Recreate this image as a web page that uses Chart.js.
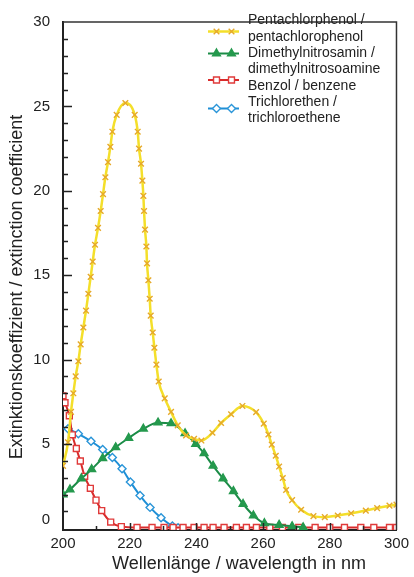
<!DOCTYPE html>
<html>
<head>
<meta charset="utf-8">
<script src="https://cdn.jsdelivr.net/npm/chart.js@4.4.0/dist/chart.umd.min.js"></script>
<style>
  html, body { margin: 0; padding: 0; background: #fff; }
  #wrap { width: 414px; height: 577px; }
</style>
</head>
<body>
<div id="wrap"><canvas id="chart"></canvas></div>
<script>
// ─── Data ───────────────────────────────────────────────────────────────────
const seriesLabels = [
  ['Pentachlorphenol /', 'pentachlorophenol'],
  ['Dimethylnitrosamin /', 'dimethylnitrosoamine'],
  ['Benzol / benzene'],
  ['Trichlorethen /', 'trichloroethene'],
];
const xTitle = 'Wellenlänge / wavelength in nm';
const yTitle = 'Extinktionskoeffizient / extinction coefficient';

const xTicks = [200, 220, 240, 260, 280, 300];
const yTicks = [0, 5, 10, 15, 20, 25, 30];

// Pentachlorphenol
const pcpNm  = [200, 201.5, 202.4, 203.1, 203.8, 204.6, 205.3, 206.1, 206.9, 207.6, 208.3, 208.9, 209.6, 210.5,
                211.3, 212.0, 212.7, 213.5, 214.2, 214.8, 216.1, 218.7, 221.5, 222.4, 222.8, 223.4, 223.8, 224.1,
                224.3, 224.6, 225.0, 225.2, 225.6, 226.0, 226.3, 226.9, 227.4, 228.0, 228.7, 230.5, 232.4, 234.4,
                236.9, 239.3, 241.5, 244.8, 247.4, 250.4, 253.8, 257.9, 260.2, 261.6, 262.6, 263.8, 264.8, 265.9,
                266.9, 268.7, 271.4, 275.1, 278.5, 282.4, 286.4, 290.8, 294.2, 297.9, 300];
const pcpVal = [3.7, 5.1, 6.9, 8.0, 9.0, 9.9, 10.9, 11.9, 12.9, 13.9, 14.9, 15.8, 16.8, 17.8,
                18.8, 19.8, 20.8, 21.7, 22.6, 23.5, 24.5, 25.2, 24.5, 23.5, 22.5, 21.6, 20.6, 19.7,
                18.8, 17.7, 16.7, 15.7, 14.7, 13.6, 12.6, 11.6, 10.7, 9.7, 8.7, 7.7, 6.9, 6.1,
                5.5, 5.3, 5.2, 5.66, 6.24, 6.76, 7.25, 6.88, 6.2, 5.56, 4.96, 4.3, 3.66, 2.98,
                2.27, 1.67, 1.1, 0.72, 0.66, 0.76, 0.89, 1.05, 1.2, 1.34, 1.4];

// Dimethylnitrosamin
const dmnNm  = [200, 202.1, 205.5, 208.6, 211.9, 215.8, 219.7, 224.1, 228.5, 232.4, 236.6, 239.8, 242.3, 245.0,
                248.0, 251.1, 254.0, 257.1, 260.4, 264.8, 268.7, 272];
const dmnVal = [2.0, 2.3, 2.95, 3.5, 4.15, 4.8, 5.35, 5.9, 6.26, 6.22, 5.63, 5.0, 4.44, 3.7,
                2.95, 2.2, 1.44, 0.76, 0.3, 0.2, 0.12, 0.06];

// Benzol
const bzNm  = [200, 200.6, 201.9, 202.8, 204.0, 205.2, 206.5, 208.2, 209.9, 211.6, 214.3, 217.5, 222.2, 226.7,
               230.3, 233.0, 236.0, 239.3, 242.3, 245.0, 248.3, 252.0, 255.0, 258.0, 262.0, 265.8, 270.7, 275.6,
               280.0, 284.4, 289.3, 293.2, 297.9, 300];
const bzVal = [7.85, 7.44, 6.67, 5.54, 4.73, 3.99, 3.08, 2.37, 1.67, 1.05, 0.37, 0.1, 0.05, 0.05,
               0.05, 0.05, 0.05, 0.05, 0.05, 0.05, 0.05, 0.05, 0.05, 0.05, 0.05, 0.05, 0.05, 0.05,
               0.05, 0.05, 0.05, 0.05, 0.05, 0.05];

// Trichlorethen
const tceNm  = [201.5, 204.6, 208.4, 211.9, 214.8, 217.7, 220.2, 223.1, 226.1, 229.4, 232.8, 234.5];
const tceVal = [5.9, 5.6, 5.16, 4.67, 4.19, 3.53, 2.75, 1.94, 1.24, 0.62, 0.14, 0.03];

// ─── Helpers ────────────────────────────────────────────────────────────────
const pts = (xs, ys) => xs.map((x, i) => ({ x, y: ys[i] }));

const FONT = "'Liberation Sans', Arial, sans-serif";
const INK  = '#222';

// ─── Frame, inner ticks, titles and legend ──────────────────────────────────
const framePlugin = {
  id: 'frame',
  afterDatasetsDraw(chart) {
    const { ctx, chartArea: a, scales: { x, y } } = chart;
    ctx.save();

    // top + right box lines
    ctx.strokeStyle = '#333';
    ctx.lineWidth = 1.5;
    ctx.beginPath();
    ctx.moveTo(a.left, a.top);
    ctx.lineTo(a.right, a.top);
    ctx.lineTo(a.right, a.bottom);
    ctx.stroke();

    // inward ticks
    ctx.strokeStyle = INK;
    ctx.lineWidth = 1.5;
    ctx.beginPath();
    for (let v = 1; v <= 29; v++) {
      const py = Math.round(y.getPixelForValue(v)) + 0.5;
      ctx.moveTo(a.left, py);
      ctx.lineTo(a.left + (v % 5 ? 5 : 9), py);
    }
    for (let v = 210; v <= 290; v += 10) {
      const px = Math.round(x.getPixelForValue(v)) + 0.5;
      ctx.moveTo(px, a.bottom);
      ctx.lineTo(px, a.bottom - (v % 20 ? 4 : 7));
    }
    ctx.stroke();

    // zero label sits a little above its tick in the original
    ctx.fillStyle = INK;
    ctx.font = '15px ' + FONT;
    ctx.textAlign = 'right';
    ctx.textBaseline = 'middle';
    ctx.fillText(String(yTicks[0]), a.left - 13, y.getPixelForValue(yTicks[0]) - 8);

    // axis titles
    ctx.font = '18px ' + FONT;
    ctx.textAlign = 'center';
    ctx.fillText(xTitle, 239, 564);
    ctx.save();
    ctx.translate(17, 287);
    ctx.rotate(-Math.PI / 2);
    ctx.fillText(yTitle, 0, 0);
    ctx.restore();

    // legend
    const textX = 248, lineH = 16.3;
    const sampleY = [31.5, 53.5, 80, 108.5];
    let ty = 20.5;
    ctx.font = '14px ' + FONT;
    ctx.textBaseline = 'middle';
    ctx.textAlign = 'left';
    chart.data.datasets.forEach((ds, i) => {
      const sy = sampleY[i];
      ctx.strokeStyle = ds.borderColor;
      ctx.lineWidth = ds.borderWidth;
      ctx.beginPath();
      ctx.moveTo(208, sy);
      ctx.lineTo(239, sy);
      ctx.stroke();
      [216.5, 231.5].forEach(mx => {
        ctx.fillStyle = ds.pointBackgroundColor;
        ctx.strokeStyle = ds.pointBorderColor;
        ctx.lineWidth = ds.pointBorderWidth;
        Chart.helpers.drawPoint(ctx, {
          pointStyle: ds.pointStyle, radius: ds.pointRadius, rotation: 0, borderWidth: ds.pointBorderWidth
        }, mx, sy);
      });
      ctx.fillStyle = INK;
      seriesLabels[i].forEach(line => {
        ctx.fillText(line, textX, ty);
        ty += lineH;
      });
    });

    ctx.restore();
  }
};

// ─── Chart ──────────────────────────────────────────────────────────────────
const line = (label, data, color, marker, style, radius, fill, width) => ({
  label: label.join(' '),
  data,
  borderColor: color,
  borderWidth: width,
  pointStyle: style,
  pointRadius: radius,
  pointHoverRadius: radius,
  pointBorderColor: marker,
  pointBackgroundColor: fill,
  pointBorderWidth: 1.4,
  cubicInterpolationMode: 'monotone',
  fill: false,
});

new Chart(document.getElementById('chart'), {
  type: 'line',
  data: {
    datasets: [
      line(seriesLabels[0], pts(pcpNm, pcpVal), '#f4df2a', '#e6a92a', 'crossRot', 4, '#e6a92a', 2.5),
      line(seriesLabels[1], pts(dmnNm, dmnVal), '#1b8c47', '#24994d', 'triangle', 4.5, '#24994d', 2),
      line(seriesLabels[2], pts(bzNm, bzVal),   '#d92b2b', '#e03a3a', 'rect', 4.2, '#ffffff', 2),
      line(seriesLabels[3], pts(tceNm, tceVal), '#1e8fd6', '#2a95d8', 'rectRot', 4, '#ffffff', 2),
    ]
  },
  options: {
    responsive: true, maintainAspectRatio: false, animation: false,
    devicePixelRatio: 1,
    layout: { padding: { top: 12, right: 11, left: 0, bottom: 0 } },
    plugins: { legend: { display: false }, tooltip: { enabled: false } },
    scales: {
      x: {
        type: 'linear', min: 200, max: 300,
        afterBuildTicks: s => { s.ticks = xTicks.map(value => ({ value })); },
        afterFit: s => { s.height = 47; },
        grid: { display: false, drawTicks: false },
        border: { color: INK, width: 2 },
        ticks: { color: INK, font: { family: FONT, size: 15 }, padding: 5, maxRotation: 0 },
        title: { display: false }
      },
      y: {
        type: 'linear', min: -0.1, max: 30,
        afterBuildTicks: s => { s.ticks = yTicks.map(value => ({ value })); },
        afterFit: s => { s.width = 63; },
        grid: { display: false, drawTicks: false },
        border: { color: INK, width: 2 },
        ticks: {
          color: INK, font: { family: FONT, size: 15 }, padding: 13,
          callback: v => (v === yTicks[0] ? '' : String(v))
        },
        title: { display: false }
      }
    }
  },
  plugins: [framePlugin]
});
</script>
</body>
</html>
